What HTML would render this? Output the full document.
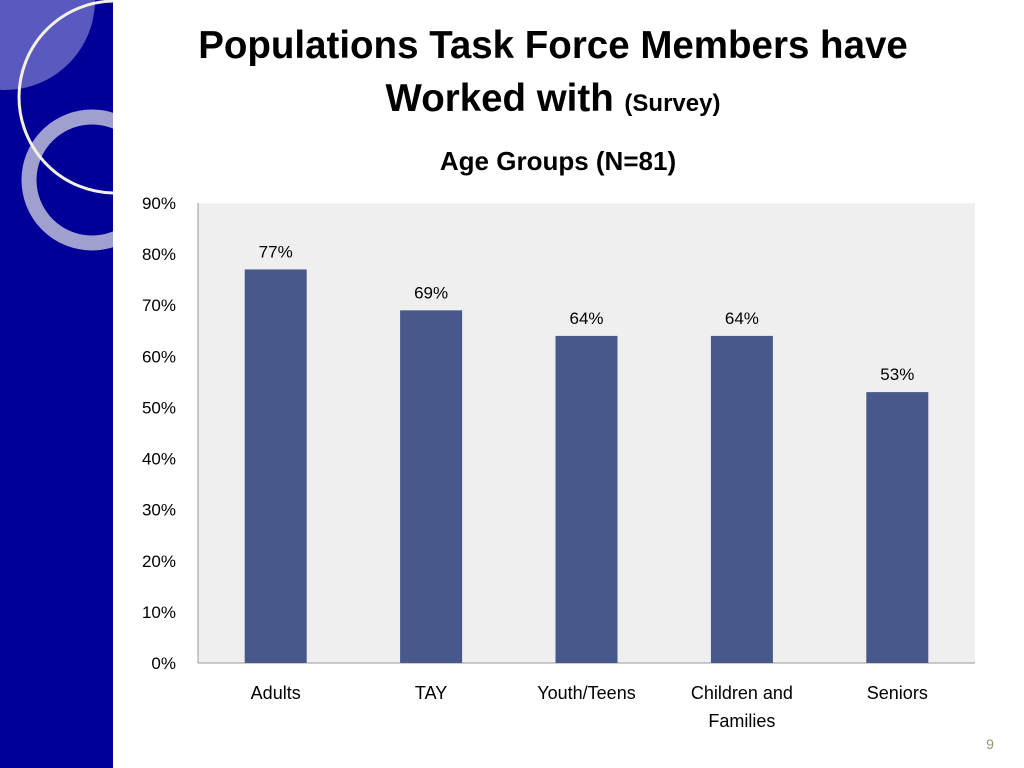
<!DOCTYPE html>
<html><head><meta charset="utf-8"><style>
html,body{margin:0;padding:0;width:1024px;height:768px;overflow:hidden;background:#fff;font-family:"Liberation Sans",sans-serif;}
</style></head><body>
<svg id="s" width="1024" height="768" xmlns="http://www.w3.org/2000/svg" font-family="Liberation Sans, sans-serif">
<defs><clipPath id="side"><rect x="0" y="0" width="113" height="768"/></clipPath></defs>
<g clip-path="url(#side)">
<rect x="0" y="0" width="113" height="768" fill="#000099"/>
<circle cx="5" cy="0" r="90" fill="#7777cc" opacity="0.75"/>
<circle cx="92" cy="180" r="63" fill="none" stroke="#a0a0d0" stroke-width="15"/>
<circle cx="115" cy="97" r="96" fill="none" stroke="#f4f0e0" stroke-width="3"/>
</g>
<text x="553" y="58" text-anchor="middle" font-size="38.5" font-weight="bold">Populations Task Force Members have</text>
<text x="553" y="111" text-anchor="middle" font-size="38.5" font-weight="bold">Worked with <tspan font-size="24">(Survey)</tspan></text>
<text x="558" y="170" text-anchor="middle" font-size="26" font-weight="bold">Age Groups (N=81)</text>
<rect x="198" y="203" width="777" height="460" fill="#efefef"/>
<line x1="198" y1="203" x2="198" y2="663" stroke="#999" stroke-width="1"/>
<line x1="198" y1="663" x2="975" y2="663" stroke="#999" stroke-width="1"/>
<g id="marks"></g>
<text x="990" y="749" text-anchor="middle" font-size="14" fill="#a09070">9</text>
</svg>
<script>
const categories = [["Adults"],["TAY"],["Youth/Teens"],["Children and","Families"],["Seniors"]];
const values = [77,69,64,64,53];
const yTicks = [0,10,20,30,40,50,60,70,80,90];
const x0=198,x1=975,y0=663,y1=203,ymax=90;
const ns="http://www.w3.org/2000/svg";
const g=document.getElementById('marks');
const band=(x1-x0)/categories.length;
const xc=i=>x0+band*(i+0.5);
const y=v=>y0-(v/ymax)*(y0-y1);
function mk(t,a){const e=document.createElementNS(ns,t);for(const k in a)e.setAttribute(k,a[k]);g.appendChild(e);return e;}
yTicks.forEach(t=>{
  const e=mk('text',{x:176,y:y(t)+6,'text-anchor':'end','font-size':17});
  e.textContent=t+'%';
  
  
});
values.forEach((v,i)=>{
  const r=mk('rect',{x:xc(i)-31,y:y(v),width:62,height:y0-y(v),fill:'#46598a'});
  
  
  const l=mk('text',{x:xc(i),y:y(v)-12,'text-anchor':'middle','font-size':17});
  l.textContent=v+'%';
  
  
  categories[i].forEach((line,j)=>{
    const c=mk('text',{x:xc(i),y:699+j*28,'text-anchor':'middle','font-size':18});
    c.textContent=line;
    
    
  });
});
</script>
</body></html>
